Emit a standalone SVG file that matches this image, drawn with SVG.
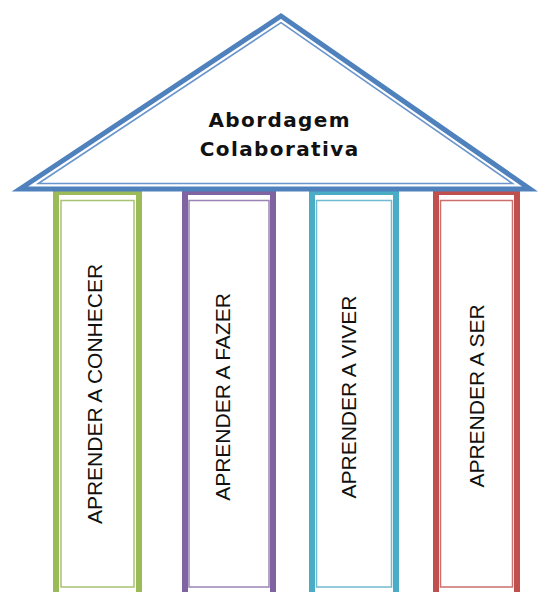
<svg xmlns="http://www.w3.org/2000/svg" width="540" height="592" viewBox="0 0 540 592">
<style>
.thick{fill:none;stroke-width:6;stroke-linejoin:miter}
.thin{fill:none;stroke-width:1.5}
.plabel{font-family:"Liberation Sans",Arial,sans-serif;font-size:21px;fill:#111;text-anchor:middle}
.title{font-family:"DejaVu Sans",Verdana,sans-serif;font-weight:bold;font-size:20px;letter-spacing:1.4px;fill:#111;text-anchor:middle}
</style>
<rect width="540" height="592" fill="#ffffff"/>
<g id="pillar-conhecer">
<rect class="thick" x="56" y="192" width="83" height="420" stroke="#9BBB59"/>
<rect class="thin" x="61" y="200.5" width="73" height="386.5" stroke="#A9C173"/>
<text class="plabel" transform="translate(102,394) rotate(-90)">APRENDER A CONHECER</text>
</g>
<g id="pillar-fazer">
<rect class="thick" x="185" y="192" width="88" height="420" stroke="#8064A2"/>
<rect class="thin" x="189" y="200.5" width="80" height="386.5" stroke="#9A84B6"/>
<text class="plabel" transform="translate(230,397) rotate(-90)">APRENDER A FAZER</text>
</g>
<g id="pillar-viver">
<rect class="thick" x="312" y="192" width="84" height="420" stroke="#4BACC6"/>
<rect class="thin" x="316.5" y="200.5" width="75" height="386.5" stroke="#6DBCD1"/>
<text class="plabel" transform="translate(356,397) rotate(-90)">APRENDER A VIVER</text>
</g>
<g id="pillar-ser">
<rect class="thick" x="436" y="192" width="81" height="420" stroke="#C0504D"/>
<rect class="thin" x="440.5" y="200.5" width="72" height="386.5" stroke="#C9706D"/>
<text class="plabel" transform="translate(484,396) rotate(-90)">APRENDER A SER</text>
</g>
<g id="roof">
<polygon points="281,16 530,189 20,189" fill="#ffffff" stroke="#4F81BD" stroke-width="5" stroke-linejoin="miter" stroke-miterlimit="6"/>
<polygon points="281,22.6 512.5,183.5 38.3,183.5" fill="none" stroke="#6A95CC" stroke-width="1.6"/>
<text class="title" x="279.7" y="127">Abordagem</text>
<text class="title" x="279.7" y="155.5">Colaborativa</text>
</g>
<g id="connectors"></g>
</svg>
